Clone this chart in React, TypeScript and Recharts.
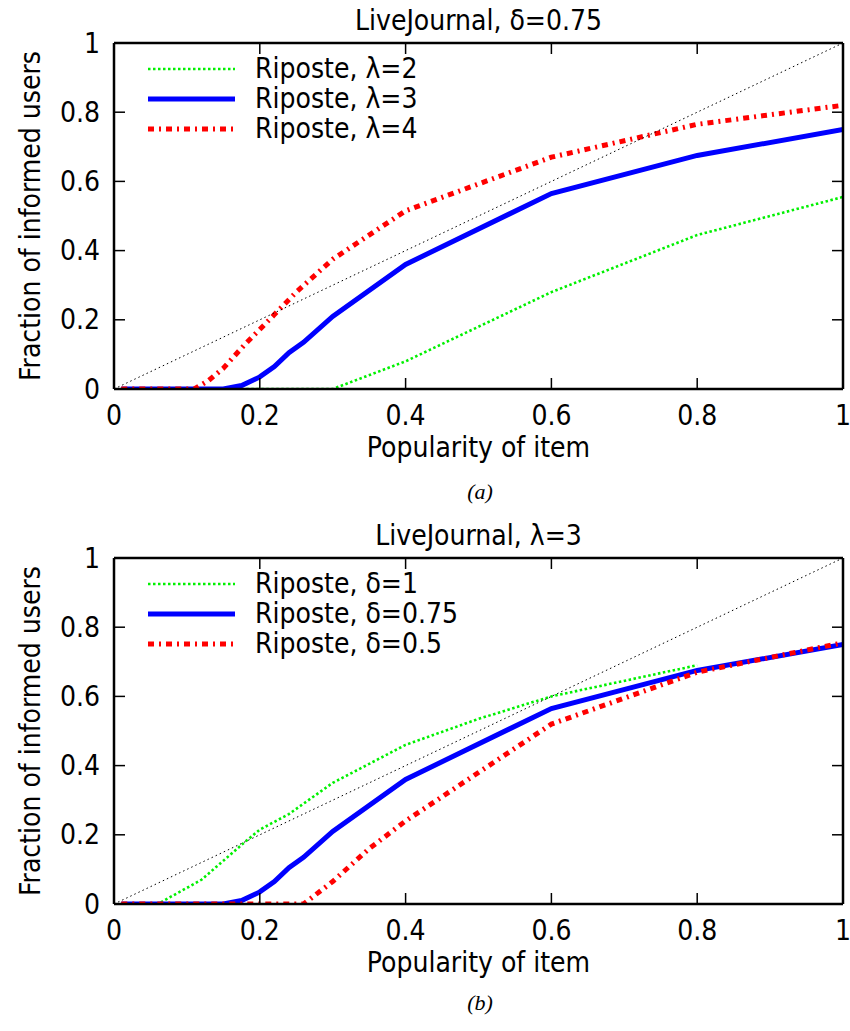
import React from 'react';
import { LineChart, Line, XAxis, YAxis, Legend } from 'recharts';

const FONT = '"Liberation Sans Narrow", "DejaVu Sans Condensed", "Liberation Sans", sans-serif';

// ---- Data: chart (a) LiveJournal, delta=0.75 ----
const popA_l2 = [0.01, 0.3, 0.4, 0.6, 0.8, 1];
const fracA_l2 = [0, 0, 0.08, 0.28, 0.445, 0.555];
const popA_l3 = [0.01, 0.15, 0.175, 0.2, 0.22, 0.24, 0.26, 0.3, 0.4, 0.6, 0.8, 1];
const fracA_l3 = [0, 0, 0.01, 0.035, 0.065, 0.105, 0.135, 0.21, 0.36, 0.565, 0.675, 0.75];
const popA_l4 = [0.01, 0.11, 0.13, 0.15, 0.18, 0.22, 0.25, 0.3, 0.4, 0.6, 0.8, 1];
const fracA_l4 = [0, 0, 0.025, 0.06, 0.13, 0.215, 0.28, 0.375, 0.515, 0.67, 0.765, 0.82];

// ---- Data: chart (b) LiveJournal, lambda=3 ----
const popB_d1 = [0.01, 0.06, 0.12, 0.18, 0.2, 0.24, 0.3, 0.4, 0.5, 0.6, 0.8];
const fracB_d1 = [0, 0, 0.07, 0.18, 0.215, 0.26, 0.35, 0.46, 0.535, 0.6, 0.69];
const popB_d075 = [0.01, 0.15, 0.175, 0.2, 0.22, 0.24, 0.26, 0.3, 0.4, 0.6, 0.8, 1];
const fracB_d075 = [0, 0, 0.01, 0.035, 0.065, 0.105, 0.135, 0.21, 0.36, 0.565, 0.675, 0.75];
const popB_d05 = [0.01, 0.26, 0.3, 0.35, 0.4, 0.5, 0.6, 0.8, 1];
const fracB_d05 = [0, 0, 0.065, 0.16, 0.24, 0.38, 0.52, 0.67, 0.755];

const diagX = [0, 1];
const diagY = [0, 1];

const xTicks = [0, 0.2, 0.4, 0.6, 0.8, 1];
const yTicks = [0, 0.2, 0.4, 0.6, 0.8, 1];
const tickLabel = (v: number) => (v === 0 || v === 1 ? String(v) : v.toFixed(1));

const toPts = (xs: number[], ys: number[]) => xs.map((x, i) => ({ x, y: ys[i] }));

type Style = { stroke: string; width: number; dash?: string };
const GREEN: Style = { stroke: '#00f000', width: 2.6, dash: '2.5 2.5' };
const BLUE: Style = { stroke: '#0000ff', width: 5 };
const RED: Style = { stroke: '#ff0000', width: 5, dash: '6 5 2 5' };

type Series = { name: string; data: { x: number; y: number }[]; style: Style };

const W = 850;
const H = 500;
const M = { top: 42, left: 113, right: 6, bottom: 110 };
const TICK = 11;

const BottomTick = (p: any) => (
  <g>
    <line x1={p.x} y1={p.y} x2={p.x} y2={p.y - TICK} stroke="#000" strokeWidth={1.5} />
    <text x={p.x} y={p.y + 26} textAnchor="middle" dominantBaseline="central" fontFamily={FONT} fontSize={28} fill="#000">
      {tickLabel(p.payload.value)}
    </text>
  </g>
);
const TopTick = (p: any) => (
  <line x1={p.x} y1={p.y} x2={p.x} y2={p.y + TICK} stroke="#000" strokeWidth={1.5} />
);
const LeftTick = (p: any) => (
  <g>
    <line x1={p.x} y1={p.y} x2={p.x + TICK} y2={p.y} stroke="#000" strokeWidth={1.5} />
    <text x={p.x - 14} y={p.y} textAnchor="end" dominantBaseline="central" fontFamily={FONT} fontSize={28} fill="#000">
      {tickLabel(p.payload.value)}
    </text>
  </g>
);
const RightTick = (p: any) => (
  <line x1={p.x} y1={p.y} x2={p.x - TICK} y2={p.y} stroke="#000" strokeWidth={1.5} />
);

const makeLegend = (series: Series[]) => () => (
  <div style={{ fontFamily: FONT, fontSize: 28, lineHeight: '30px', color: '#000' }}>
    {series.map((s) => (
      <div key={s.name} style={{ display: 'flex', alignItems: 'center', height: 30 }}>
        <svg width={107} height={30} style={{ display: 'block' }}>
          <line x1={0} y1={15} x2={87} y2={15} stroke={s.style.stroke} strokeWidth={s.style.width} strokeDasharray={s.style.dash} />
        </svg>
        <span style={{ whiteSpace: 'nowrap' }}>{s.name}</span>
      </div>
    ))}
  </div>
);

const AXIS_LINE = { stroke: '#000', strokeWidth: 2.5 };

const Panel = ({ title, series }: { title: string; series: Series[] }) => (
  <LineChart width={W} height={H} margin={M}>
    <XAxis
      xAxisId={0}
      dataKey="x"
      type="number"
      domain={[0, 1]}
      ticks={xTicks}
      height={1}
      tickSize={0}
      tickMargin={0}
      tickLine={false}
      tick={<BottomTick />}
      axisLine={AXIS_LINE}
      allowDataOverflow
      label={{ value: 'Popularity of item', position: 'bottom', offset: 47, fontFamily: FONT, fontSize: 28, fill: '#000' }}
    />
    <XAxis
      xAxisId="top"
      orientation="top"
      dataKey="x"
      type="number"
      domain={[0, 1]}
      ticks={xTicks}
      height={1}
      tickSize={0}
      tickMargin={0}
      tickLine={false}
      tick={<TopTick />}
      axisLine={AXIS_LINE}
      allowDataOverflow
      label={{ value: title, position: 'top', offset: 12, fontFamily: FONT, fontSize: 28, fill: '#000' }}
    />
    <YAxis
      yAxisId={0}
      type="number"
      domain={[0, 1]}
      ticks={yTicks}
      width={1}
      tickSize={0}
      tickMargin={0}
      tickLine={false}
      tick={<LeftTick />}
      axisLine={AXIS_LINE}
      allowDataOverflow
      label={{
        content: (props: any) => {
          const vb = props.viewBox || {};
          const cy = (vb.y || 0) + (vb.height || 0) / 2;
          return (
            <text x={30} y={cy} transform={`rotate(-90 30 ${cy})`} textAnchor="middle" dominantBaseline="central" fontFamily={FONT} fontSize={28} fill="#000">
              Fraction of informed users
            </text>
          );
        },
      }}
    />
    <YAxis
      yAxisId="right"
      orientation="right"
      type="number"
      domain={[0, 1]}
      ticks={yTicks}
      width={1}
      tickSize={0}
      tickMargin={0}
      tickLine={false}
      tick={<RightTick />}
      axisLine={AXIS_LINE}
      allowDataOverflow
    />
    <Legend
      layout="vertical"
      align="center"
      verticalAlign="middle"
      content={makeLegend(series)}
      wrapperStyle={{ position: 'absolute', left: 148, top: 54, width: 400 }}
    />
    {series.map((s) => (
      <Line
        key={s.name}
        name={s.name}
        data={s.data}
        dataKey="y"
        type="linear"
        stroke={s.style.stroke}
        strokeWidth={s.style.width}
        strokeDasharray={s.style.dash}
        dot={false}
        activeDot={false}
        isAnimationActive={false}
      />
    ))}
    <Line
      data={toPts(diagX, diagY)}
      dataKey="y"
      type="linear"
      stroke="#000"
      strokeWidth={1}
      strokeDasharray="1.5 3"
      dot={false}
      activeDot={false}
      legendType="none"
      isAnimationActive={false}
    />
  </LineChart>
);

const seriesA: Series[] = [
  { name: 'Riposte, λ=2', data: toPts(popA_l2, fracA_l2), style: GREEN },
  { name: 'Riposte, λ=3', data: toPts(popA_l3, fracA_l3), style: BLUE },
  { name: 'Riposte, λ=4', data: toPts(popA_l4, fracA_l4), style: RED },
];
const seriesB: Series[] = [
  { name: 'Riposte, δ=1', data: toPts(popB_d1, fracB_d1), style: GREEN },
  { name: 'Riposte, δ=0.75', data: toPts(popB_d075, fracB_d075), style: BLUE },
  { name: 'Riposte, δ=0.5', data: toPts(popB_d05, fracB_d05), style: RED },
];

const captionStyle: React.CSSProperties = {
  position: 'absolute',
  left: 0,
  width: 960,
  textAlign: 'center',
  fontFamily: '"Liberation Serif", "DejaVu Serif", serif',
  fontStyle: 'italic',
  fontSize: 22,
  lineHeight: '26px',
};

export default function App() {
  return (
    <div style={{ position: 'absolute', left: 0, top: 0, width: 850, height: 1031, background: '#fff' }}>
      <div style={{ position: 'absolute', left: 0, top: 0 }}>
        <Panel title="LiveJournal, δ=0.75" series={seriesA} />
      </div>
      <div style={{ ...captionStyle, top: 479 }}>(a)</div>
      <div style={{ position: 'absolute', left: 0, top: 515 }}>
        <Panel title="LiveJournal, λ=3" series={seriesB} />
      </div>
      <div style={{ ...captionStyle, top: 990 }}>(b)</div>
    </div>
  );
}
